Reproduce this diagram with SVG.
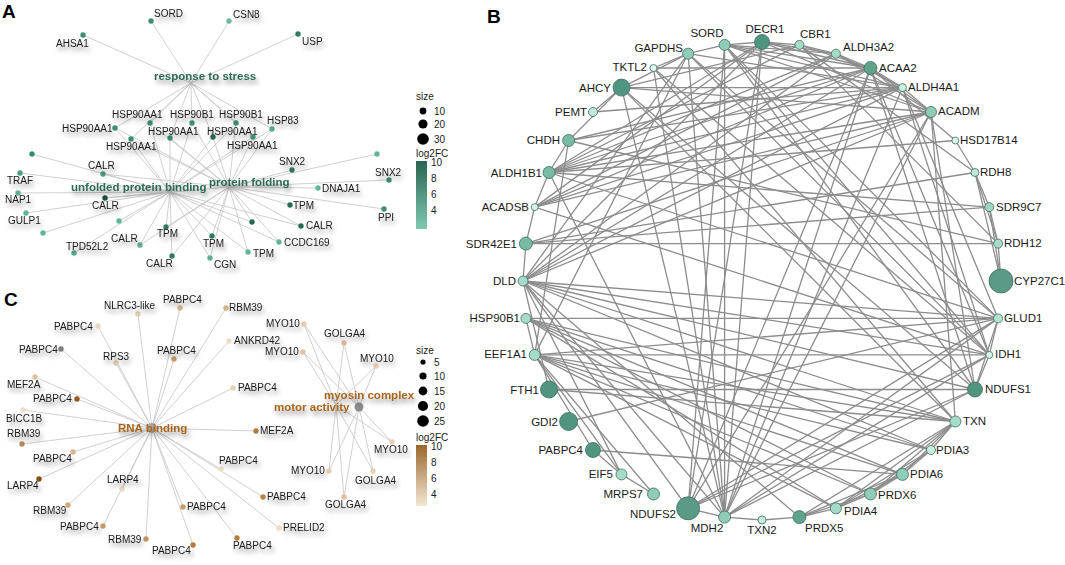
<svg xmlns="http://www.w3.org/2000/svg" width="1065" height="565" viewBox="0 0 1065 565">
<style>
text{font-family:"Liberation Sans",Arial,sans-serif;fill:#1a1a1a}
.g{font-size:10px}
.sh{filter:url(#sh)}
.gb{font-size:11.5px}
.pl{font-size:19px;font-weight:bold;fill:#000}
.ca{font-size:11.5px;font-weight:bold;fill:#2d6b56}
.cc{font-size:11.5px;font-weight:bold;fill:#a8651e}
.lg{font-size:10px}
.ea line{stroke:#c4c4c4;stroke-width:0.8}
.eb line{stroke:#8c8c8c;stroke-width:1.3}
.nb circle{stroke:#3f6e61;stroke-width:0.8}
</style>
<defs>
<filter id="sh" x="-20%" y="-50%" width="150%" height="230%">
<feGaussianBlur in="SourceAlpha" stdDeviation="2.4"/>
<feOffset dx="2" dy="4"/>
<feComponentTransfer><feFuncA type="linear" slope="0.4"/></feComponentTransfer>
<feMerge><feMergeNode/><feMergeNode in="SourceGraphic"/></feMerge>
</filter>
<linearGradient id="ga" x1="0" y1="0" x2="0" y2="1"><stop offset="0" stop-color="#2a6552"/><stop offset="1" stop-color="#7fc8b0"/></linearGradient>
<linearGradient id="gc" x1="0" y1="0" x2="0" y2="1"><stop offset="0" stop-color="#99662a"/><stop offset="1" stop-color="#f4e7d4"/></linearGradient>
</defs>
<rect width="1065" height="565" fill="#fff"/>

<text class="pl" x="2" y="18">A</text>
<text class="pl" x="487" y="23">B</text>
<text class="pl" x="4" y="306">C</text>

<!-- Panel A connectors -->
<g id="edges-a" class="ea">
<line x1="191" y1="83" x2="151" y2="21"/><line x1="191" y1="83" x2="229" y2="21"/><line x1="191" y1="83" x2="83" y2="35"/><line x1="191" y1="83" x2="298" y2="34"/>
<line x1="191" y1="83" x2="115" y2="128"/><line x1="191" y1="83" x2="150" y2="123"/><line x1="191" y1="83" x2="192" y2="123"/><line x1="191" y1="83" x2="236" y2="123"/><line x1="191" y1="83" x2="272" y2="129"/><line x1="191" y1="83" x2="131" y2="139"/><line x1="191" y1="83" x2="170" y2="138"/><line x1="191" y1="83" x2="213" y2="137"/><line x1="191" y1="83" x2="253" y2="137"/>
<line x1="170" y1="192" x2="115" y2="128"/><line x1="170" y1="192" x2="150" y2="123"/><line x1="170" y1="192" x2="192" y2="123"/><line x1="170" y1="192" x2="236" y2="123"/><line x1="170" y1="192" x2="272" y2="129"/><line x1="170" y1="192" x2="131" y2="139"/><line x1="170" y1="192" x2="170" y2="138"/><line x1="170" y1="192" x2="213" y2="137"/><line x1="170" y1="192" x2="253" y2="137"/>
<line x1="170" y1="192" x2="32" y2="154"/><line x1="170" y1="192" x2="20" y2="173"/><line x1="170" y1="192" x2="103" y2="174"/><line x1="170" y1="192" x2="18" y2="193"/><line x1="170" y1="192" x2="105" y2="198"/><line x1="170" y1="192" x2="26" y2="213"/><line x1="170" y1="192" x2="119" y2="221"/><line x1="170" y1="192" x2="43" y2="233"/><line x1="170" y1="192" x2="74" y2="253"/><line x1="170" y1="192" x2="140" y2="245"/><line x1="170" y1="192" x2="166" y2="227"/><line x1="170" y1="192" x2="172" y2="256"/><line x1="170" y1="192" x2="212" y2="236"/><line x1="170" y1="192" x2="210" y2="258"/><line x1="170" y1="192" x2="252" y2="222"/><line x1="170" y1="192" x2="301" y2="226"/><line x1="170" y1="192" x2="279" y2="242"/><line x1="170" y1="192" x2="248" y2="252"/>
<line x1="229" y1="187" x2="115" y2="128"/><line x1="229" y1="187" x2="150" y2="123"/><line x1="229" y1="187" x2="192" y2="123"/><line x1="229" y1="187" x2="236" y2="123"/><line x1="229" y1="187" x2="272" y2="129"/><line x1="229" y1="187" x2="131" y2="139"/><line x1="229" y1="187" x2="170" y2="138"/><line x1="229" y1="187" x2="213" y2="137"/><line x1="229" y1="187" x2="253" y2="137"/>
<line x1="229" y1="187" x2="103" y2="174"/><line x1="229" y1="187" x2="105" y2="198"/><line x1="229" y1="187" x2="140" y2="245"/><line x1="229" y1="187" x2="166" y2="227"/><line x1="229" y1="187" x2="172" y2="256"/><line x1="229" y1="187" x2="212" y2="236"/><line x1="229" y1="187" x2="210" y2="258"/>
<line x1="229" y1="187" x2="292" y2="170"/><line x1="229" y1="187" x2="377" y2="154"/><line x1="229" y1="187" x2="389" y2="180"/><line x1="229" y1="187" x2="318" y2="188"/><line x1="229" y1="187" x2="290" y2="205"/><line x1="229" y1="187" x2="384" y2="209"/><line x1="229" y1="187" x2="252" y2="222"/><line x1="229" y1="187" x2="301" y2="226"/><line x1="229" y1="187" x2="279" y2="242"/><line x1="229" y1="187" x2="248" y2="252"/>
</g>

<!-- Panel C connectors -->
<g id="edges-c" class="ea">
<line x1="152" y1="428" x2="138" y2="314"/><line x1="152" y1="428" x2="180" y2="308"/><line x1="152" y1="428" x2="98" y2="326"/><line x1="152" y1="428" x2="61" y2="349"/><line x1="152" y1="428" x2="116" y2="363"/><line x1="152" y1="428" x2="174" y2="359"/><line x1="152" y1="428" x2="35" y2="377"/><line x1="152" y1="428" x2="77" y2="399"/><line x1="152" y1="428" x2="23" y2="410"/><line x1="152" y1="428" x2="226" y2="308"/><line x1="152" y1="428" x2="229" y2="341"/><line x1="152" y1="428" x2="233" y2="388"/><line x1="152" y1="428" x2="256" y2="431"/>
<line x1="152" y1="428" x2="22" y2="444"/><line x1="152" y1="428" x2="73" y2="452"/><line x1="152" y1="428" x2="39" y2="479"/><line x1="152" y1="428" x2="122" y2="489"/><line x1="152" y1="428" x2="68" y2="505"/><line x1="152" y1="428" x2="103" y2="526"/><line x1="152" y1="428" x2="146" y2="539"/><line x1="152" y1="428" x2="193" y2="545"/><line x1="152" y1="428" x2="183" y2="507"/><line x1="152" y1="428" x2="221" y2="469"/><line x1="152" y1="428" x2="263" y2="497"/><line x1="152" y1="428" x2="279" y2="528"/><line x1="152" y1="428" x2="237" y2="538"/>
<line x1="359" y1="407" x2="304" y2="324"/><line x1="359" y1="407" x2="303" y2="352"/><line x1="359" y1="407" x2="344" y2="343"/><line x1="359" y1="407" x2="376" y2="366"/><line x1="359" y1="407" x2="392" y2="442"/><line x1="359" y1="407" x2="329" y2="471"/><line x1="359" y1="407" x2="373" y2="471"/><line x1="359" y1="407" x2="344" y2="497"/>
<line x1="336" y1="405" x2="304" y2="324"/><line x1="336" y1="405" x2="303" y2="352"/><line x1="336" y1="405" x2="344" y2="343"/><line x1="336" y1="405" x2="376" y2="366"/><line x1="336" y1="405" x2="392" y2="442"/><line x1="336" y1="405" x2="329" y2="471"/><line x1="336" y1="405" x2="373" y2="471"/><line x1="336" y1="405" x2="344" y2="497"/>
</g>

<!-- Panel B connectors -->
<g id="edges-b" class="eb">
<line x1="688.1" y1="53.7" x2="724.6" y2="44.9"/><line x1="762" y1="42" x2="724.6" y2="44.9"/><line x1="762" y1="42" x2="799.4" y2="44.9"/><line x1="799.4" y1="44.9" x2="835.9" y2="53.7"/><line x1="835.9" y1="53.7" x2="870.5" y2="68"/><line x1="870.5" y1="68" x2="902.5" y2="87.6"/><line x1="902.5" y1="87.6" x2="931" y2="112"/><line x1="762" y1="42" x2="870.5" y2="68"/><line x1="762" y1="42" x2="835.9" y2="53.7"/><line x1="799.4" y1="44.9" x2="870.5" y2="68"/><line x1="835.9" y1="53.7" x2="902.5" y2="87.6"/><line x1="870.5" y1="68" x2="931" y2="112"/>
<line x1="975" y1="172.5" x2="989.3" y2="207.1"/><line x1="989.3" y1="207.1" x2="998.1" y2="243.6"/><line x1="975" y1="172.5" x2="998.1" y2="243.6"/><line x1="998.1" y1="243.6" x2="1001" y2="281"/><line x1="975" y1="172.5" x2="1001" y2="281"/><line x1="989.3" y1="207.1" x2="1001" y2="281"/><line x1="955.4" y1="140.5" x2="975" y2="172.5"/>
<line x1="955.4" y1="421.5" x2="931" y2="450"/><line x1="931" y1="450" x2="902.5" y2="474.4"/><line x1="902.5" y1="474.4" x2="870.5" y2="494"/><line x1="870.5" y1="494" x2="835.9" y2="508.3"/><line x1="835.9" y1="508.3" x2="799.4" y2="517.1"/><line x1="799.4" y1="517.1" x2="762" y2="520"/><line x1="955.4" y1="421.5" x2="902.5" y2="474.4"/><line x1="955.4" y1="421.5" x2="870.5" y2="494"/><line x1="931" y1="450" x2="870.5" y2="494"/><line x1="902.5" y1="474.4" x2="835.9" y2="508.3"/><line x1="955.4" y1="421.5" x2="835.9" y2="508.3"/><line x1="931" y1="450" x2="835.9" y2="508.3"/><line x1="870.5" y1="494" x2="799.4" y2="517.1"/><line x1="955.4" y1="421.5" x2="799.4" y2="517.1"/><line x1="902.5" y1="474.4" x2="799.4" y2="517.1"/>
<line x1="762" y1="520" x2="724.6" y2="517.1"/><line x1="724.6" y1="517.1" x2="688.1" y2="508.3"/><line x1="653.5" y1="494" x2="534.7" y2="354.9"/><line x1="621.5" y1="474.4" x2="534.7" y2="354.9"/><line x1="593" y1="450" x2="534.7" y2="354.9"/><line x1="621.5" y1="474.4" x2="593" y2="450"/><line x1="653.5" y1="494" x2="621.5" y2="474.4"/>
<line x1="523" y1="281" x2="525.9" y2="243.6"/><line x1="525.9" y1="243.6" x2="534.7" y2="207.1"/><line x1="534.7" y1="207.1" x2="549" y2="172.5"/><line x1="549" y1="172.5" x2="568.6" y2="140.5"/><line x1="593" y1="112" x2="621.5" y2="87.6"/><line x1="621.5" y1="87.6" x2="688.1" y2="53.7"/><line x1="653.5" y1="68" x2="688.1" y2="53.7"/><line x1="568.6" y1="140.5" x2="621.5" y2="87.6"/>
<line x1="621.5" y1="87.6" x2="902.5" y2="87.6"/><line x1="621.5" y1="87.6" x2="931" y2="112"/><line x1="621.5" y1="87.6" x2="724.6" y2="517.1"/><line x1="621.5" y1="87.6" x2="955.4" y2="421.5"/><line x1="621.5" y1="87.6" x2="975" y2="389.5"/>
<line x1="653.5" y1="68" x2="989.3" y2="354.9"/><line x1="653.5" y1="68" x2="724.6" y2="517.1"/><line x1="653.5" y1="68" x2="955.4" y2="421.5"/><line x1="653.5" y1="68" x2="870.5" y2="68"/>
<line x1="724.6" y1="44.9" x2="724.6" y2="517.1"/><line x1="724.6" y1="44.9" x2="902.5" y2="87.6"/><line x1="724.6" y1="44.9" x2="931" y2="112"/><line x1="724.6" y1="44.9" x2="870.5" y2="68"/><line x1="724.6" y1="44.9" x2="835.9" y2="53.7"/><line x1="724.6" y1="44.9" x2="989.3" y2="354.9"/><line x1="724.6" y1="44.9" x2="998.1" y2="318.4"/><line x1="724.6" y1="44.9" x2="688.1" y2="508.3"/><line x1="724.6" y1="44.9" x2="975" y2="389.5"/>
<line x1="688.1" y1="53.7" x2="724.6" y2="517.1"/><line x1="688.1" y1="53.7" x2="989.3" y2="354.9"/><line x1="688.1" y1="53.7" x2="523" y2="281"/><line x1="688.1" y1="53.7" x2="998.1" y2="318.4"/><line x1="688.1" y1="53.7" x2="902.5" y2="87.6"/><line x1="688.1" y1="53.7" x2="534.7" y2="354.9"/>
<line x1="762" y1="42" x2="931" y2="112"/><line x1="762" y1="42" x2="549" y2="172.5"/><line x1="762" y1="42" x2="534.7" y2="207.1"/><line x1="762" y1="42" x2="523" y2="281"/><line x1="762" y1="42" x2="724.6" y2="517.1"/><line x1="762" y1="42" x2="688.1" y2="508.3"/>
<line x1="799.4" y1="44.9" x2="549" y2="172.5"/><line x1="799.4" y1="44.9" x2="998.1" y2="243.6"/><line x1="799.4" y1="44.9" x2="975" y2="172.5"/><line x1="799.4" y1="44.9" x2="621.5" y2="87.6"/>
<line x1="835.9" y1="53.7" x2="549" y2="172.5"/><line x1="835.9" y1="53.7" x2="534.7" y2="207.1"/><line x1="835.9" y1="53.7" x2="523" y2="281"/><line x1="835.9" y1="53.7" x2="931" y2="112"/>
<line x1="870.5" y1="68" x2="534.7" y2="207.1"/><line x1="870.5" y1="68" x2="523" y2="281"/><line x1="870.5" y1="68" x2="724.6" y2="517.1"/><line x1="870.5" y1="68" x2="975" y2="389.5"/><line x1="870.5" y1="68" x2="688.1" y2="508.3"/><line x1="870.5" y1="68" x2="989.3" y2="354.9"/><line x1="870.5" y1="68" x2="955.4" y2="140.5"/><line x1="870.5" y1="68" x2="549" y2="172.5"/>
<line x1="902.5" y1="87.6" x2="998.1" y2="318.4"/><line x1="902.5" y1="87.6" x2="549" y2="172.5"/><line x1="902.5" y1="87.6" x2="534.7" y2="207.1"/><line x1="902.5" y1="87.6" x2="523" y2="281"/><line x1="902.5" y1="87.6" x2="989.3" y2="354.9"/><line x1="902.5" y1="87.6" x2="724.6" y2="517.1"/>
<line x1="931" y1="112" x2="534.7" y2="207.1"/><line x1="931" y1="112" x2="523" y2="281"/><line x1="931" y1="112" x2="549" y2="172.5"/><line x1="931" y1="112" x2="975" y2="389.5"/><line x1="931" y1="112" x2="688.1" y2="508.3"/><line x1="931" y1="112" x2="724.6" y2="517.1"/><line x1="931" y1="112" x2="955.4" y2="421.5"/><line x1="931" y1="112" x2="525.9" y2="243.6"/>
<line x1="523" y1="281" x2="998.1" y2="318.4"/><line x1="523" y1="281" x2="989.3" y2="354.9"/><line x1="523" y1="281" x2="975" y2="389.5"/><line x1="523" y1="281" x2="724.6" y2="517.1"/><line x1="523" y1="281" x2="688.1" y2="508.3"/><line x1="523" y1="281" x2="955.4" y2="421.5"/><line x1="523" y1="281" x2="799.4" y2="517.1"/><line x1="523" y1="281" x2="621.5" y2="474.4"/><line x1="523" y1="281" x2="931" y2="450"/>
<line x1="534.7" y1="354.9" x2="998.1" y2="318.4"/><line x1="534.7" y1="354.9" x2="989.3" y2="354.9"/><line x1="534.7" y1="354.9" x2="955.4" y2="421.5"/><line x1="534.7" y1="354.9" x2="931" y2="450"/><line x1="534.7" y1="354.9" x2="902.5" y2="474.4"/><line x1="534.7" y1="354.9" x2="870.5" y2="494"/><line x1="534.7" y1="354.9" x2="835.9" y2="508.3"/><line x1="534.7" y1="354.9" x2="525.9" y2="318.4"/><line x1="534.7" y1="354.9" x2="568.6" y2="140.5"/>
<line x1="525.9" y1="318.4" x2="998.1" y2="318.4"/><line x1="525.9" y1="318.4" x2="955.4" y2="421.5"/><line x1="525.9" y1="318.4" x2="931" y2="450"/><line x1="525.9" y1="318.4" x2="902.5" y2="474.4"/><line x1="525.9" y1="318.4" x2="835.9" y2="508.3"/><line x1="525.9" y1="318.4" x2="870.5" y2="494"/>
<line x1="549" y1="389.5" x2="975" y2="389.5"/><line x1="549" y1="389.5" x2="955.4" y2="421.5"/><line x1="549" y1="389.5" x2="523" y2="281"/><line x1="568.6" y1="421.5" x2="998.1" y2="318.4"/><line x1="593" y1="450" x2="902.5" y2="474.4"/>
<line x1="688.1" y1="508.3" x2="975" y2="389.5"/><line x1="688.1" y1="508.3" x2="998.1" y2="318.4"/><line x1="688.1" y1="508.3" x2="989.3" y2="354.9"/><line x1="724.6" y1="517.1" x2="998.1" y2="318.4"/><line x1="724.6" y1="517.1" x2="989.3" y2="354.9"/><line x1="724.6" y1="517.1" x2="975" y2="389.5"/>
<line x1="975" y1="389.5" x2="998.1" y2="318.4"/><line x1="975" y1="389.5" x2="989.3" y2="354.9"/><line x1="998.1" y1="318.4" x2="989.3" y2="354.9"/>
<line x1="549" y1="172.5" x2="998.1" y2="318.4"/><line x1="549" y1="172.5" x2="724.6" y2="517.1"/><line x1="534.7" y1="207.1" x2="989.3" y2="354.9"/>
<line x1="525.9" y1="243.6" x2="998.1" y2="243.6"/><line x1="525.9" y1="243.6" x2="975" y2="172.5"/><line x1="525.9" y1="243.6" x2="989.3" y2="207.1"/>
<line x1="568.6" y1="140.5" x2="870.5" y2="68"/><line x1="568.6" y1="140.5" x2="902.5" y2="87.6"/><line x1="593" y1="112" x2="902.5" y2="87.6"/>
<line x1="998.1" y1="243.6" x2="568.6" y2="140.5"/><line x1="989.3" y1="207.1" x2="549" y2="172.5"/><line x1="955.4" y1="140.5" x2="549" y2="172.5"/>
</g>

<!-- Panel A nodes -->
<g id="a-sord"><circle cx="151" cy="21" r="2.7" fill="#3f8f76"/><text class="g sh" x="154" y="17">SORD</text></g>
<g id="a-csn8"><circle cx="229" cy="21" r="2.7" fill="#6ab9a0"/><text class="g sh" x="233" y="18">CSN8</text></g>
<g id="a-ahsa1"><circle cx="83" cy="35" r="2.7" fill="#3f8f76"/><text class="g sh" x="56" y="47">AHSA1</text></g>
<g id="a-usp"><circle cx="298" cy="34" r="2.7" fill="#2f7a63"/><text class="g sh" x="302" y="45">USP</text></g>
<g id="a-hsp1"><circle cx="115" cy="128" r="2.7" fill="#3f8f76"/><text class="g sh" x="62" y="132">HSP90AA1</text></g>
<g id="a-hsp2"><circle cx="150" cy="123" r="2.7" fill="#3f8f76"/><text class="g sh" x="112" y="118">HSP90AA1</text></g>
<g id="a-hsp3"><circle cx="192" cy="123" r="2.7" fill="#3f8f76"/><text class="g sh" x="170" y="118">HSP90B1</text></g>
<g id="a-hsp4"><circle cx="236" cy="123" r="2.7" fill="#3f8f76"/><text class="g sh" x="219" y="118">HSP90B1</text></g>
<g id="a-hsp83"><circle cx="272" cy="129" r="2.7" fill="#5aae94"/><text class="g sh" x="267" y="124">HSP83</text></g>
<g id="a-hsp5"><circle cx="131" cy="139" r="2.7" fill="#3f8f76"/><text class="g sh" x="106" y="150">HSP90AA1</text></g>
<g id="a-hsp6"><circle cx="170" cy="138" r="2.7" fill="#3f8f76"/><text class="g sh" x="148" y="135">HSP90AA1</text></g>
<g id="a-hsp7"><circle cx="213" cy="137" r="2.7" fill="#2d6e5a"/><text class="g sh" x="207" y="135">HSP90AA1</text></g>
<g id="a-hsp8"><circle cx="253" cy="137" r="2.7" fill="#3f8f76"/><text class="g sh" x="227" y="149">HSP90AA1</text></g>
<g id="a-n14"><circle cx="32" cy="154" r="2.7" fill="#3a8a70"/></g>
<g id="a-traf"><circle cx="20" cy="173" r="2.7" fill="#4a9d83"/><text class="g sh" x="7" y="184">TRAF</text></g>
<g id="a-calr1"><circle cx="103" cy="174" r="2.7" fill="#4a9d83"/><text class="g sh" x="88" y="169">CALR</text></g>
<g id="a-nap1"><circle cx="18" cy="193" r="2.7" fill="#5fb096"/><text class="g sh" x="5" y="203">NAP1</text></g>
<g id="a-calr2"><circle cx="105" cy="198" r="2.7" fill="#1f4f40"/><text class="g sh" x="92" y="209">CALR</text></g>
<g id="a-gulp1"><circle cx="26" cy="213" r="2.7" fill="#62b49a"/><text class="g sh" x="8" y="224">GULP1</text></g>
<g id="a-n20"><circle cx="119" cy="221" r="2.7" fill="#62b49a"/></g>
<g id="a-n21"><circle cx="43" cy="233" r="2.7" fill="#62b49a"/></g>
<g id="a-tpd52l2"><circle cx="74" cy="253" r="2.7" fill="#5aac92"/><text class="g sh" x="66" y="250">TPD52L2</text></g>
<g id="a-calr3"><circle cx="140" cy="245" r="2.7" fill="#5fb096"/><text class="g sh" x="111" y="242">CALR</text></g>
<g id="a-tpm1"><circle cx="166" cy="227" r="2.7" fill="#2e7a62"/><text class="g sh" x="157" y="237">TPM</text></g>
<g id="a-calr4"><circle cx="172" cy="256" r="2.7" fill="#2e7a62"/><text class="g sh" x="146" y="267">CALR</text></g>
<g id="a-tpm2"><circle cx="212" cy="236" r="2.7" fill="#2e7a62"/><text class="g sh" x="203" y="247">TPM</text></g>
<g id="a-cgn"><circle cx="210" cy="258" r="2.7" fill="#5fb096"/><text class="g sh" x="214" y="268">CGN</text></g>
<g id="a-snx2a"><circle cx="292" cy="170" r="2.7" fill="#2e7a62"/><text class="g sh" x="279" y="165">SNX2</text></g>
<g id="a-n29"><circle cx="377" cy="154" r="2.7" fill="#62b49a"/></g>
<g id="a-snx2b"><circle cx="389" cy="180" r="2.7" fill="#3f8f76"/><text class="g sh" x="375" y="176">SNX2</text></g>
<g id="a-dnaja1"><circle cx="318" cy="188" r="2.7" fill="#62b49a"/><text class="g sh" x="322" y="192">DNAJA1</text></g>
<g id="a-tpm3"><circle cx="290" cy="205" r="2.7" fill="#266b55"/><text class="g sh" x="293" y="209">TPM</text></g>
<g id="a-ppi"><circle cx="384" cy="209" r="2.7" fill="#3f8f76"/><text class="g sh" x="378" y="221">PPI</text></g>
<g id="a-n34"><circle cx="252" cy="222" r="2.7" fill="#266b55"/></g>
<g id="a-calr5"><circle cx="301" cy="226" r="2.7" fill="#266b55"/><text class="g sh" x="306" y="229">CALR</text></g>
<g id="a-ccdc169"><circle cx="279" cy="242" r="2.7" fill="#62b49a"/><text class="g sh" x="284" y="246">CCDC169</text></g>
<g id="a-tpm4"><circle cx="248" cy="252" r="2.7" fill="#62b49a"/><text class="g sh" x="253" y="257">TPM</text></g>
<g id="a-cat-stress"><text class="ca sh" x="154" y="80">response to stress</text></g>
<g id="a-cat-unfolded"><text class="ca sh" x="71" y="191">unfolded protein binding</text></g>
<g id="a-cat-folding"><text class="ca sh" x="209" y="186">protein folding</text></g>

<!-- Legend A -->
<g id="legend-a">
<text class="lg" x="416" y="100">size</text>
<circle cx="423" cy="111" r="3.4" fill="#000"/><text class="lg" x="434" y="115">10</text>
<circle cx="423" cy="124" r="4.6" fill="#000"/><text class="lg" x="434" y="128">20</text>
<circle cx="423" cy="139" r="5.8" fill="#000"/><text class="lg" x="434" y="143">30</text>
<text class="lg" x="416" y="157">log2FC</text>
<rect x="416" y="161" width="11" height="68" fill="url(#ga)"/>
<text class="lg" x="431" y="166">10</text><text class="lg" x="431" y="182">8</text><text class="lg" x="431" y="198">6</text><text class="lg" x="431" y="214">4</text>
</g>

<!-- Panel C nodes -->
<g id="c-hub-rna"><circle cx="152" cy="428" r="5" fill="#a9a9a9"/></g>
<g id="c-hub-myo"><circle cx="359" cy="407" r="4.5" fill="#8c8c8c"/></g>
<g id="c-nlrc3"><circle cx="138" cy="314" r="2.7" fill="#e8d2b2"/><text class="g sh" x="104" y="309">NLRC3-like</text></g>
<g id="c-p1"><circle cx="180" cy="308" r="2.7" fill="#d9b890"/><text class="g sh" x="163" y="303">PABPC4</text></g>
<g id="c-p2"><circle cx="98" cy="326" r="2.7" fill="#ecd9bd"/><text class="g sh" x="54" y="330">PABPC4</text></g>
<g id="c-p3"><circle cx="61" cy="349" r="2.7" fill="#7f7f7f"/><text class="g sh" x="19" y="353">PABPC4</text></g>
<g id="c-rps3"><circle cx="116" cy="363" r="2.7" fill="#e6d0b0"/><text class="g sh" x="103" y="360">RPS3</text></g>
<g id="c-p4"><circle cx="174" cy="359" r="2.7" fill="#c8a070"/><text class="g sh" x="157" y="354">PABPC4</text></g>
<g id="c-mef2a1"><circle cx="35" cy="377" r="2.7" fill="#dfc29c"/><text class="g sh" x="7" y="388">MEF2A</text></g>
<g id="c-p5"><circle cx="77" cy="399" r="2.7" fill="#9a5b1a"/><text class="g sh" x="33" y="402">PABPC4</text></g>
<g id="c-bicc1b"><circle cx="23" cy="410" r="2.7" fill="#f0dfc6"/><text class="g sh" x="6" y="422">BICC1B</text></g>
<g id="c-rbm39a"><circle cx="226" cy="308" r="2.7" fill="#d4b084"/><text class="g sh" x="229" y="311">RBM39</text></g>
<g id="c-ankrd42"><circle cx="229" cy="341" r="2.7" fill="#efdcc2"/><text class="g sh" x="234" y="344">ANKRD42</text></g>
<g id="c-p6"><circle cx="233" cy="388" r="2.7" fill="#e8d3b5"/><text class="g sh" x="238" y="391">PABPC4</text></g>
<g id="c-mef2a2"><circle cx="256" cy="431" r="2.7" fill="#b07a3c"/><text class="g sh" x="260" y="434">MEF2A</text></g>
<g id="c-rbm39b"><circle cx="22" cy="444" r="2.7" fill="#b88a55"/><text class="g sh" x="7" y="437">RBM39</text></g>
<g id="c-p7"><circle cx="73" cy="452" r="2.7" fill="#d8b68c"/><text class="g sh" x="33" y="462">PABPC4</text></g>
<g id="c-larp4a"><circle cx="39" cy="479" r="2.7" fill="#8a4d10"/><text class="g sh" x="7" y="489">LARP4</text></g>
<g id="c-larp4b"><circle cx="122" cy="489" r="2.7" fill="#efdcc2"/><text class="g sh" x="107" y="483">LARP4</text></g>
<g id="c-rbm39c"><circle cx="68" cy="505" r="2.7" fill="#d1aa7a"/><text class="g sh" x="33" y="514">RBM39</text></g>
<g id="c-p8"><circle cx="103" cy="526" r="2.7" fill="#c89c68"/><text class="g sh" x="60" y="530">PABPC4</text></g>
<g id="c-rbm39d"><circle cx="146" cy="539" r="2.7" fill="#c29462"/><text class="g sh" x="108" y="543">RBM39</text></g>
<g id="c-p9"><circle cx="193" cy="545" r="2.7" fill="#b57b38"/><text class="g sh" x="152" y="554">PABPC4</text></g>
<g id="c-p10"><circle cx="183" cy="507" r="2.7" fill="#c89c68"/><text class="g sh" x="187" y="510">PABPC4</text></g>
<g id="c-p11"><circle cx="221" cy="469" r="2.7" fill="#f0e0c8"/><text class="g sh" x="219" y="464">PABPC4</text></g>
<g id="c-p12"><circle cx="263" cy="497" r="2.7" fill="#b98544"/><text class="g sh" x="267" y="500">PABPC4</text></g>
<g id="c-prelid2"><circle cx="279" cy="528" r="2.7" fill="#efdcc2"/><text class="g sh" x="283" y="531">PRELID2</text></g>
<g id="c-p13"><circle cx="237" cy="538" r="2.7" fill="#b57b38"/><text class="g sh" x="233" y="549">PABPC4</text></g>
<g id="c-myo1"><circle cx="304" cy="324" r="2.7" fill="#e7d1b3"/><text class="g sh" x="266" y="327">MYO10</text></g>
<g id="c-myo2"><circle cx="303" cy="352" r="2.7" fill="#e2c9a6"/><text class="g sh" x="265" y="355">MYO10</text></g>
<g id="c-golga4a"><circle cx="344" cy="343" r="2.7" fill="#dcbf99"/><text class="g sh" x="324" y="337">GOLGA4</text></g>
<g id="c-myo3"><circle cx="376" cy="366" r="2.7" fill="#e7d1b3"/><text class="g sh" x="360" y="362">MYO10</text></g>
<g id="c-myo4"><circle cx="392" cy="442" r="2.7" fill="#e7d1b3"/><text class="g sh" x="374" y="453">MYO10</text></g>
<g id="c-myo5"><circle cx="329" cy="471" r="2.7" fill="#e7d1b3"/><text class="g sh" x="291" y="474">MYO10</text></g>
<g id="c-golga4b"><circle cx="373" cy="471" r="2.7" fill="#e7d1b3"/><text class="g sh" x="355" y="484">GOLGA4</text></g>
<g id="c-golga4c"><circle cx="344" cy="497" r="2.7" fill="#dcbf99"/><text class="g sh" x="325" y="508">GOLGA4</text></g>
<g id="c-cat-rna"><text class="cc sh" x="118" y="432">RNA binding</text></g>
<g id="c-cat-myosin"><text class="cc sh" x="324" y="399">myosin complex</text></g>
<g id="c-cat-motor"><text class="cc sh" x="274" y="411">motor activity</text></g>

<!-- Legend C -->
<g id="legend-c">
<text class="lg" x="416" y="354">size</text>
<circle cx="423" cy="362" r="2.6" fill="#000"/><text class="lg" x="434" y="366">5</text>
<circle cx="423" cy="376" r="3.6" fill="#000"/><text class="lg" x="434" y="380">10</text>
<circle cx="423" cy="391" r="4.4" fill="#000"/><text class="lg" x="434" y="395">15</text>
<circle cx="423" cy="406" r="5.1" fill="#000"/><text class="lg" x="434" y="410">20</text>
<circle cx="423" cy="421" r="5.8" fill="#000"/><text class="lg" x="434" y="425">25</text>
<text class="lg" x="416" y="441">log2FC</text>
<rect x="416" y="445" width="11" height="61" fill="url(#gc)"/>
<text class="lg" x="431" y="450">10</text><text class="lg" x="431" y="466">8</text><text class="lg" x="431" y="482">6</text><text class="lg" x="431" y="498">4</text>
</g>

<!-- Panel B nodes -->
<g class="nb">
<g id="b-decr1"><circle cx="762" cy="42" r="7.5" fill="#4f9580"/><text class="gb" x="765" y="33" text-anchor="middle">DECR1</text></g>
<g id="b-cbr1"><circle cx="799.4" cy="44.9" r="4.5" fill="#a6dbc9"/><text class="gb" x="800" y="38">CBR1</text></g>
<g id="b-aldh3a2"><circle cx="835.9" cy="53.7" r="4.5" fill="#a6dbc9"/><text class="gb" x="843" y="51">ALDH3A2</text></g>
<g id="b-acaa2"><circle cx="870.5" cy="68" r="6.5" fill="#5fa38d"/><text class="gb" x="879" y="72">ACAA2</text></g>
<g id="b-aldh4a1"><circle cx="902.5" cy="87.6" r="4" fill="#cdeee2"/><text class="gb" x="908" y="91">ALDH4A1</text></g>
<g id="b-acadm"><circle cx="931" cy="112" r="5.5" fill="#8fcdb8"/><text class="gb" x="938" y="115">ACADM</text></g>
<g id="b-hsd17b14"><circle cx="955.4" cy="140.5" r="3.5" fill="#d8f3ea"/><text class="gb" x="960" y="144">HSD17B14</text></g>
<g id="b-rdh8"><circle cx="975" cy="172.5" r="4" fill="#c2e8da"/><text class="gb" x="980" y="176">RDH8</text></g>
<g id="b-sdr9c7"><circle cx="989.3" cy="207.1" r="4.5" fill="#9fd7c4"/><text class="gb" x="996" y="211">SDR9C7</text></g>
<g id="b-rdh12"><circle cx="998.1" cy="243.6" r="4.5" fill="#a6dbc9"/><text class="gb" x="1004" y="247">RDH12</text></g>
<g id="b-cyp27c1"><circle cx="1001" cy="281" r="12" fill="#5a9a86"/><text class="gb" x="1014" y="285">CYP27C1</text></g>
<g id="b-glud1"><circle cx="998.1" cy="318.4" r="4.5" fill="#b4e2d3"/><text class="gb" x="1004" y="322">GLUD1</text></g>
<g id="b-idh1"><circle cx="989.3" cy="354.9" r="3.5" fill="#d8f3ea"/><text class="gb" x="995" y="358">IDH1</text></g>
<g id="b-ndufs1"><circle cx="975" cy="389.5" r="7.5" fill="#4f9580"/><text class="gb" x="985" y="393">NDUFS1</text></g>
<g id="b-txn"><circle cx="955.4" cy="421.5" r="5.5" fill="#a6dbc9"/><text class="gb" x="963" y="425">TXN</text></g>
<g id="b-pdia3"><circle cx="931" cy="450" r="4.5" fill="#c8ece0"/><text class="gb" x="936" y="454">PDIA3</text></g>
<g id="b-pdia6"><circle cx="902.5" cy="474.4" r="6" fill="#8fcdb8"/><text class="gb" x="910" y="478">PDIA6</text></g>
<g id="b-prdx6"><circle cx="870.5" cy="494" r="6" fill="#8fcdb8"/><text class="gb" x="878" y="499">PRDX6</text></g>
<g id="b-pdia4"><circle cx="835.9" cy="508.3" r="5.5" fill="#a6dbc9"/><text class="gb" x="844" y="515">PDIA4</text></g>
<g id="b-prdx5"><circle cx="799.4" cy="517.1" r="6.5" fill="#5fa38d"/><text class="gb" x="805" y="532">PRDX5</text></g>
<g id="b-txn2"><circle cx="762" cy="520" r="4" fill="#c8ece0"/><text class="gb" x="762" y="534" text-anchor="middle">TXN2</text></g>
<g id="b-mdh2"><circle cx="724.6" cy="517.1" r="6" fill="#8fcdb8"/><text class="gb" x="707" y="532" text-anchor="middle">MDH2</text></g>
<g id="b-ndufs2"><circle cx="688.1" cy="508.3" r="11.5" fill="#5a9a86"/><text class="gb" x="676" y="518" text-anchor="end">NDUFS2</text></g>
<g id="b-mrps7"><circle cx="653.5" cy="494" r="6" fill="#8fcdb8"/><text class="gb" x="643" y="498" text-anchor="end">MRPS7</text></g>
<g id="b-eif5"><circle cx="621.5" cy="474.4" r="5.5" fill="#a6dbc9"/><text class="gb" x="613" y="478" text-anchor="end">EIF5</text></g>
<g id="b-pabpc4"><circle cx="593" cy="450" r="7.5" fill="#4f9580"/><text class="gb" x="583" y="454" text-anchor="end">PABPC4</text></g>
<g id="b-gdi2"><circle cx="568.6" cy="421.5" r="9" fill="#4f9580"/><text class="gb" x="558" y="426" text-anchor="end">GDI2</text></g>
<g id="b-fth1"><circle cx="549" cy="389.5" r="8.5" fill="#4f9580"/><text class="gb" x="539" y="394" text-anchor="end">FTH1</text></g>
<g id="b-eef1a1"><circle cx="534.7" cy="354.9" r="5.5" fill="#a6dbc9"/><text class="gb" x="527" y="358" text-anchor="end">EEF1A1</text></g>
<g id="b-hsp90b1"><circle cx="525.9" cy="318.4" r="5" fill="#a6dbc9"/><text class="gb" x="520" y="322" text-anchor="end">HSP90B1</text></g>
<g id="b-dld"><circle cx="523" cy="281" r="5" fill="#a6dbc9"/><text class="gb" x="516" y="285" text-anchor="end">DLD</text></g>
<g id="b-sdr42e1"><circle cx="525.9" cy="243.6" r="6.5" fill="#78bba4"/><text class="gb" x="517" y="248" text-anchor="end">SDR42E1</text></g>
<g id="b-acadsb"><circle cx="534.7" cy="207.1" r="3.5" fill="#d8f3ea"/><text class="gb" x="529" y="211" text-anchor="end">ACADSB</text></g>
<g id="b-aldh1b1"><circle cx="549" cy="172.5" r="6" fill="#78bba4"/><text class="gb" x="542" y="177" text-anchor="end">ALDH1B1</text></g>
<g id="b-chdh"><circle cx="568.6" cy="140.5" r="6" fill="#78bba4"/><text class="gb" x="560" y="144" text-anchor="end">CHDH</text></g>
<g id="b-pemt"><circle cx="593" cy="112" r="4.5" fill="#c2e8da"/><text class="gb" x="587" y="116" text-anchor="end">PEMT</text></g>
<g id="b-ahcy"><circle cx="621.5" cy="87.6" r="8.5" fill="#4f9580"/><text class="gb" x="611" y="92" text-anchor="end">AHCY</text></g>
<g id="b-tktl2"><circle cx="653.5" cy="68" r="3.5" fill="#e0f5ee"/><text class="gb" x="647" y="71" text-anchor="end">TKTL2</text></g>
<g id="b-gapdhs"><circle cx="688.1" cy="53.7" r="5.5" fill="#8fcdb8"/><text class="gb" x="683" y="52" text-anchor="end">GAPDHS</text></g>
<g id="b-sord"><circle cx="724.6" cy="44.9" r="5.5" fill="#8fcdb8"/><text class="gb" x="707" y="37" text-anchor="middle">SORD</text></g>
</g>
</svg>
